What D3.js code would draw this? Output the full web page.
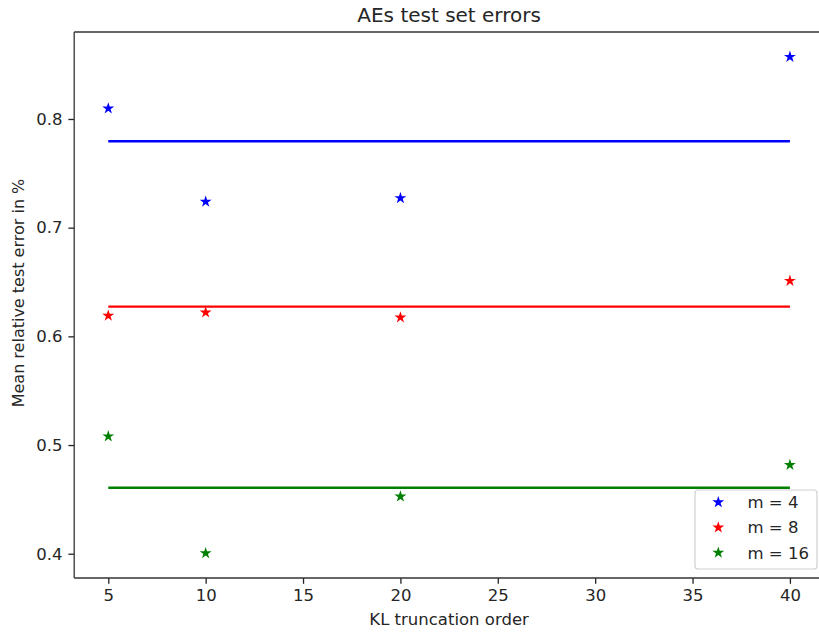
<!DOCTYPE html>
<html>
<head>
<meta charset="utf-8">
<script src="https://cdn.jsdelivr.net/npm/d3@7"></script>
<style>
  html, body { margin: 0; padding: 0; background: #fff; }
  svg { display: block; font-family: "DejaVu Sans", sans-serif; }
</style>
</head>
<body>
<svg id="chart" width="819" height="634"></svg>
<script>
// ---- data ----
const truncationOrders = [5, 10, 20, 40];
const seriesNames = ["m = 4", "m = 8", "m = 16"];
const seriesColors = ["#0000ff", "#ff0000", "#008000"];
const errorsM4 = [0.8097, 0.7239, 0.7272, 0.8572];
const errorsM8 = [0.6190, 0.6220, 0.6174, 0.6511];
const errorsM16 = [0.5080, 0.4005, 0.4526, 0.4817];
const xTicks = [5, 10, 15, 20, 25, 30, 35, 40];
const yTicks = [0.4, 0.5, 0.6, 0.7, 0.8];
const titleText = "AEs test set errors";
const xLabelText = "KL truncation order";
const yLabelText = "Mean relative test error in %";

const seriesValues = [errorsM4, errorsM8, errorsM16];

// ---- layout ----
const svg = d3.select("#chart");
const plot = { left: 74.2, right: 824, top: 32, bottom: 578 };

function padded(ext) {
  const r = ext[1] - ext[0];
  return [ext[0] - 0.05 * r, ext[1] + 0.05 * r];
}
const allY = seriesValues.flat();
const x = d3.scaleLinear().domain(padded(d3.extent(truncationOrders))).range([plot.left, plot.right]);
const y = d3.scaleLinear().domain(padded(d3.extent(allY))).range([plot.bottom, plot.top]);

const tickLen = 5.8;
const fontPx = 16.5;
const textColor = "#262626";

// axes
const xAxis = d3.axisBottom(x).tickValues(xTicks).tickFormat(d3.format("d"))
  .tickSizeInner(tickLen).tickSizeOuter(0).tickPadding(5.5);
const yAxis = d3.axisLeft(y).tickValues(yTicks).tickFormat(d3.format(".1f"))
  .tickSizeInner(tickLen).tickSizeOuter(0).tickPadding(5.8);

const gx = svg.append("g").attr("transform", `translate(0,${plot.bottom})`).call(xAxis);
const gy = svg.append("g").attr("transform", `translate(${plot.left},0)`).call(yAxis);
[gx, gy].forEach(g => {
  g.select(".domain").remove();
  g.selectAll(".tick line").attr("stroke", "#222").attr("stroke-width", 1.3);
  g.selectAll(".tick text").attr("fill", textColor).style("font-size", fontPx + "px")
    .style("font-family", "'DejaVu Sans', sans-serif");
});

// spines
const spine = svg.append("g").attr("fill", "none").attr("stroke", "#333").attr("stroke-width", 1.3);
spine.append("line").attr("x1", plot.left).attr("x2", plot.left).attr("y1", plot.top).attr("y2", plot.bottom);
spine.append("line").attr("x1", plot.left).attr("x2", plot.right).attr("y1", plot.bottom).attr("y2", plot.bottom);
spine.append("line").attr("x1", plot.left).attr("x2", plot.right).attr("y1", plot.top).attr("y2", plot.top);
spine.append("line").attr("x1", plot.right).attr("x2", plot.right).attr("y1", plot.top).attr("y2", plot.bottom);

// mean lines and stars
const star = d3.symbol().type(d3.symbolStar).size(44);
seriesValues.forEach((vals, i) => {
  const mean = d3.mean(vals);
  svg.append("line")
    .attr("x1", x(d3.min(truncationOrders))).attr("x2", x(d3.max(truncationOrders)))
    .attr("y1", y(mean)).attr("y2", y(mean))
    .attr("stroke", seriesColors[i]).attr("stroke-width", 2.3);
  svg.append("g").selectAll("path").data(vals).join("path")
    .attr("d", star)
    .attr("transform", (d, j) => `translate(${x(truncationOrders[j])},${y(d)})`)
    .attr("fill", seriesColors[i]);
});

// title & labels
svg.append("text").attr("x", (plot.left + plot.right) / 2).attr("y", 22)
  .attr("text-anchor", "middle").attr("fill", textColor).style("font-size", "20px").text(titleText);
svg.append("text").attr("x", (plot.left + plot.right) / 2).attr("y", 625)
  .attr("text-anchor", "middle").attr("fill", textColor).style("font-size", fontPx + "px").text(xLabelText);
svg.append("text").attr("transform", `translate(24,293) rotate(-90)`)
  .attr("text-anchor", "middle").attr("fill", textColor).style("font-size", "16px").text(yLabelText);

// legend
const lg = svg.append("g");
lg.append("rect").attr("x", 695).attr("y", 490).attr("width", 122).attr("height", 79)
  .attr("rx", 3).attr("fill", "#fff").attr("fill-opacity", 0.8)
  .attr("stroke", "#d0d0d0").attr("stroke-width", 1.2);
seriesNames.forEach((name, i) => {
  const cy = 502.3 + i * 25.2;
  lg.append("path").attr("d", star).attr("transform", `translate(718.3,${cy})`).attr("fill", seriesColors[i]);
  lg.append("text").attr("x", 747.5).attr("y", cy).attr("dy", "0.36em")
    .attr("fill", textColor).style("font-size", fontPx + "px").text(name);
});
</script>
</body>
</html>
